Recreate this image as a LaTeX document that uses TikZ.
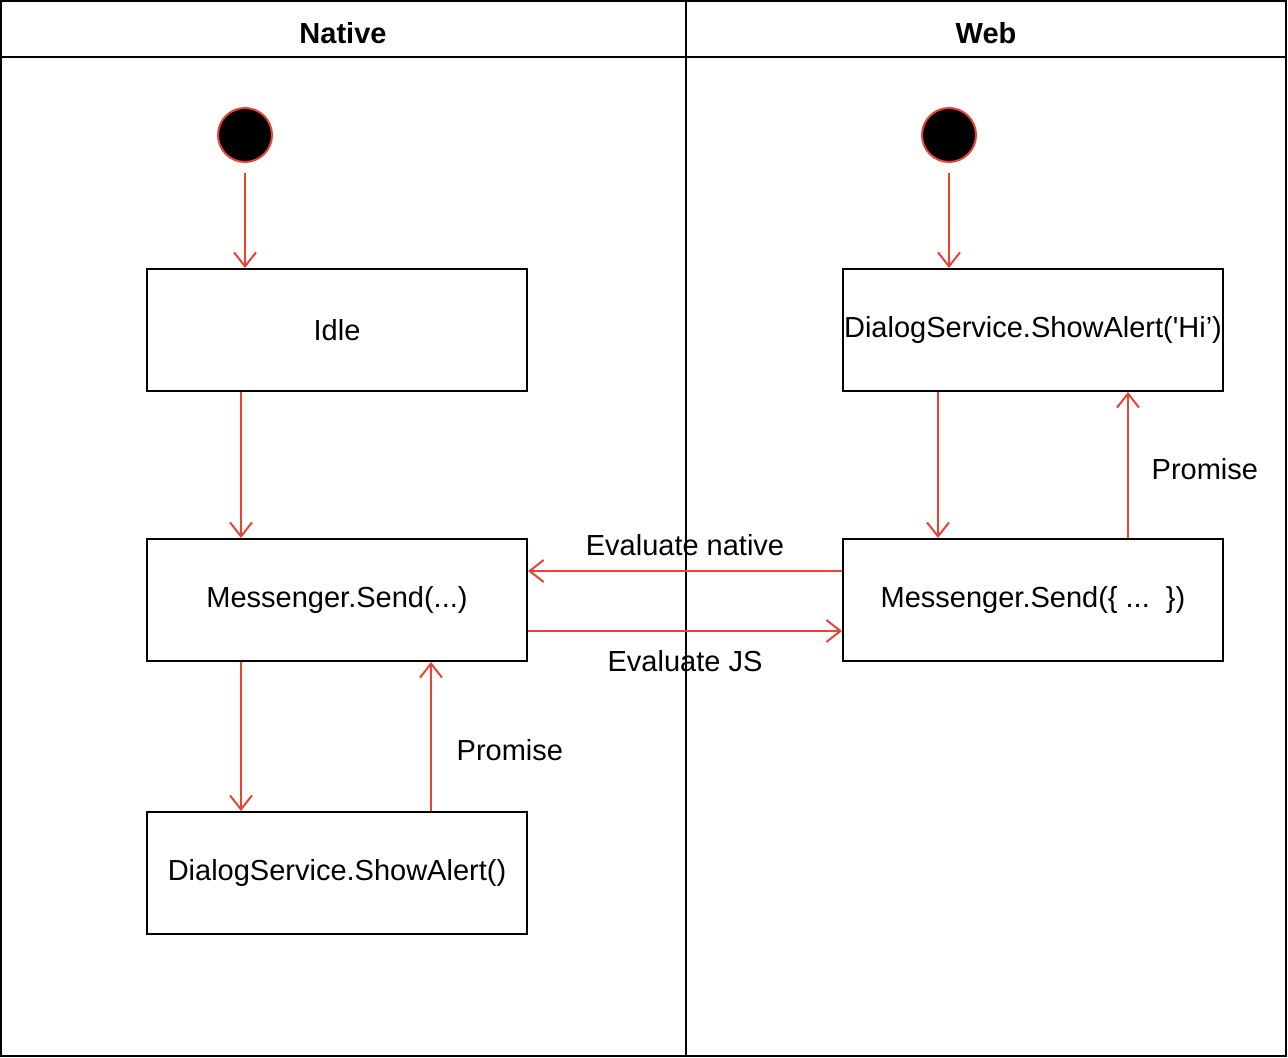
\documentclass[tikz,border=0pt]{standalone}
\usepackage{fontspec}
\setmainfont{Liberation Sans}
\usetikzlibrary{arrows.meta,calc}
\definecolor{flowred}{RGB}{234,67,53}

\begin{document}
\begin{tikzpicture}[x=0.5pt,y=-0.5pt,
        font=\fontsize{14.5}{17}\selectfont,
        state/.style={shape=rectangle,draw=black,line width=1pt,minimum width=190pt,minimum height=61pt,inner sep=0pt},
        startdot/.style={shape=circle,draw=flowred,fill=black,line width=1pt,minimum size=27pt,inner sep=0pt},
        flow/.style={draw=flowred,line width=1pt,-{Straight Barb[length=7pt,width=11pt,line width=1pt]}},
        lanehead/.style={font=\fontsize{14.5}{17}\selectfont\bfseries}]
    \useasboundingbox (0,0) rectangle (1288,1058);

        % swimlanes
        \draw[line width=1pt] (1,1) rectangle (1286,1056);
        \draw[line width=1pt] (1,57) -- (1286,57);
        \draw[line width=1pt] (686,1) -- (686,1056);
        \node[lanehead] (nativeHead) at (343,33) {Native};
        \node[lanehead] (webHead)    at (986,33) {Web};

        % native side
        \node[startdot] (nativeStart) at (245,135) {};
        \node[state] (idle)        at (337,330) {Idle};
        \node[state] (nativeSend)  at (337,600) {Messenger.Send(...)};
        \node[state] (nativeAlert) at (337,873) {DialogService.ShowAlert()};

        % web side
        \node[startdot] (webStart) at (949,135) {};
        \node[state] (webAlert) at (1033,330) {DialogService.ShowAlert(\textquotesingle Hi’)};
        \node[state] (webSend)  at (1033,600) {Messenger.Send(\{ ...~~\})};

        \draw [flow,shorten <=5pt](nativeStart) -- (nativeStart |- idle.north);
        \draw [flow]([xshift=-48pt]idle.south) -- ([xshift=-48pt]nativeSend.north);
        \draw [flow]([xshift=-48pt]nativeSend.south) -- ([xshift=-48pt]nativeAlert.north);
        \draw [flow]([xshift=47pt]nativeAlert.north) -- node[pos=0.41,right=9pt,text=black] {Promise} ([xshift=47pt]nativeSend.south);

        \draw [flow,shorten <=5pt](webStart) -- (webStart |- webAlert.north);
        \draw [flow]([xshift=-47.5pt]webAlert.south) -- ([xshift=-47.5pt]webSend.north);
        \draw [flow]([xshift=47.5pt]webSend.north) -- node[pos=0.47,right=8pt,text=black] {Promise} ([xshift=47.5pt]webAlert.south);

        \draw [flow]([yshift=14.5pt]webSend.west) -- node[midway,above=4pt,text=black] {Evaluate native} ([yshift=14.5pt]nativeSend.east);
        \draw [flow]([yshift=-15.5pt]nativeSend.east) -- node[midway,below=6pt,text=black] {Evaluate JS} ([yshift=-15.5pt]webSend.west);
    \end{tikzpicture}
\end{document}
